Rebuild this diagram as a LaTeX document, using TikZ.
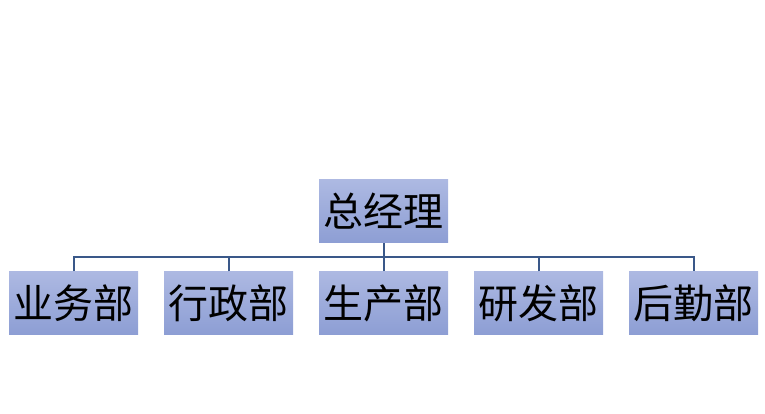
\documentclass[tikz,border=0pt]{standalone}
\usepackage{fontspec}
\newfontfamily\cjk{Noto Sans CJK SC}
\definecolor{boxtop}{HTML}{ADB9E2}
\definecolor{boxbot}{HTML}{8D9ED4}
\definecolor{linec}{HTML}{3A5889}
\begin{document}
\begin{tikzpicture}[x=1pt,y=1pt,
  orgbox/.style={rectangle, minimum width=129pt, minimum height=63pt, inner sep=0pt,
    top color=boxtop, bottom color=boxbot, draw=none,
    font=\cjk\fontsize{40}{44}\selectfont, text=black},
  link/.style={draw=linec, line width=2pt}]
\useasboundingbox (0,0) rectangle (765,414);
\node[orgbox] (gm) at (383.5,202.5) {总经理};
\node[orgbox] (d1) at (73.5,111) {业务部};
\node[orgbox] (d2) at (228.5,111) {行政部};
\node[orgbox] (d3) at (383.5,111) {生产部};
\node[orgbox] (d4) at (538.5,111) {研发部};
\node[orgbox] (d5) at (693.5,111) {后勤部};
\coordinate (bus) at (383.5,156.5);
\draw[link] (gm.south) -- (bus);
\draw[link] (d1.north) |- (bus) -| (d5.north);
\draw[link] (d2.north) -- (d2.north |- bus);
\draw[link] (d3.north) -- (bus);
\draw[link] (d4.north) -- (d4.north |- bus);
\end{tikzpicture}
\end{document}
